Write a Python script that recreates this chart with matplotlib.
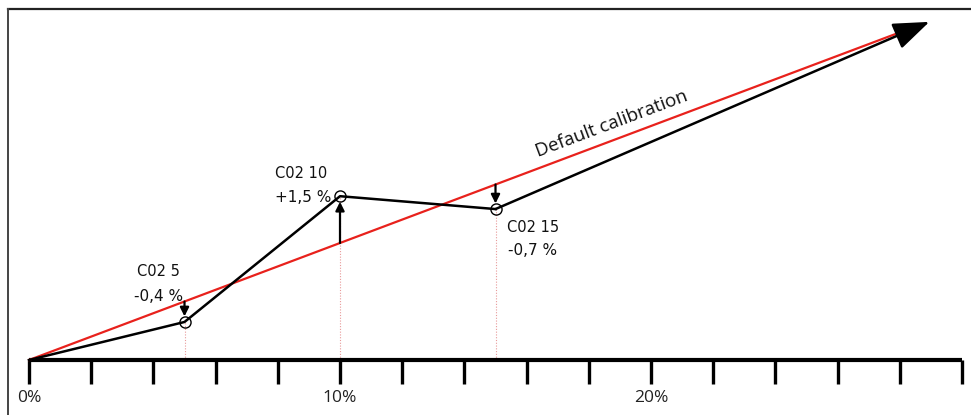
import numpy as np
import matplotlib
matplotlib.use("Agg")
import matplotlib.pyplot as plt
from matplotlib.lines import Line2D

# ---- data ----
cal_points = [5, 10, 15]                 # calibration points (% CO2)
measured = [3.25, 14.0, 12.9]            # measured response at each point
default_line_x = [0, 28.3]               # default calibration (red) line
default_line_y = [0, 28.3]
end_point = (28.95, 28.9)                # arrow tip
point_names = ["C02 5", "C02 10", "C02 15"]
point_offsets = ["-0,4 %", "+1,5 %", "-0,7 %"]
tick_positions = list(range(0, 31, 2))
tick_labels = {0: "0%", 10: "10%", 20: "20%"}

W, H = 971, 415
fig = plt.figure(figsize=(W / 100, H / 100), dpi=100)
ax = fig.add_axes([0, 0, 1, 1])
px_x = 31.1   # pixels per x unit
px_y = 11.7   # pixels per y unit
x0_px, base_px = 29, 55
ax.set_xlim(-x0_px / px_x, (W - x0_px) / px_x)
ax.set_ylim(-base_px / px_y, (H - base_px) / px_y)
ax.axis("off")

# border (top and left)
fig.add_artist(Line2D([8 / W, 1], [1 - 9 / H, 1 - 9 / H], transform=fig.transFigure,
                      color="#222222", lw=1.6))
fig.add_artist(Line2D([8 / W, 8 / W], [0, 1 - 9 / H], transform=fig.transFigure,
                      color="#444444", lw=1.4))

# pink dotted drop lines
for x, y in zip(cal_points, measured):
    ax.plot([x, x], [0, y], color="#e89a9a", lw=0.8, ls=(0, (1, 1.5)), zorder=1)

# baseline and ticks
ax.plot([0, 30], [0, 0], color="black", lw=3, solid_capstyle="butt", zorder=3)
tick_len = 2.05
ax.vlines(tick_positions, -tick_len, 0, color="black", lw=2.4, zorder=3)
for t, lab in tick_labels.items():
    ax.text(t, -3.25, lab, ha="center", va="center", fontsize=12.5,
            family="Open Sans", color="#222222")

# default calibration (red)
ax.plot(default_line_x, default_line_y, color="#e8211c", lw=1.6, zorder=4)
ax.text(18.75, 20.15, "Default calibration", ha="center", va="center",
        fontsize=13.5, family="Open Sans", color="#111111",
        rotation=45, transform_rotates_text=True, rotation_mode="anchor")

# black measured line
bx = [0] + cal_points
by = [0] + measured
ax.plot(bx, by, color="black", lw=1.8, zorder=5)
ax.annotate("", xy=end_point, xytext=(cal_points[-1], measured[-1]),
            arrowprops=dict(arrowstyle="-|>,head_length=0.8,head_width=0.3",
                            color="black", lw=1.8,
                            mutation_scale=28, shrinkA=0, shrinkB=0), zorder=5)

# circles
ax.plot(cal_points, measured, ls="none", marker="o", ms=8, mfc="none",
        mec="black", mew=1.0, zorder=6)

# correction arrows from red line to points
for x, y in zip(cal_points, measured):
    ax.annotate("", xy=(x, y), xytext=(x, x),
                arrowprops=dict(arrowstyle="-|>", color="black", lw=1.6,
                                mutation_scale=13, shrinkA=0, shrinkB=4), zorder=6)

# labels
name_off = [(-48, 50), (-65, 23), (11, -18)]
val_off = [(-51, 25), (-65, -1), (12, -41)]
for x, y, nm, vl, no, vo in zip(cal_points, measured, point_names, point_offsets,
                                name_off, val_off):
    ax.annotate(nm, xy=(x, y), xytext=no, textcoords="offset pixels",
                ha="left", va="center", fontsize=10.5, family="DejaVu Sans",
                color="#111111")
    ax.annotate(vl, xy=(x, y), xytext=vo, textcoords="offset pixels",
                ha="left", va="center", fontsize=11, family="DejaVu Sans",
                color="#111111")

fig.savefig("out.png", dpi=100)
